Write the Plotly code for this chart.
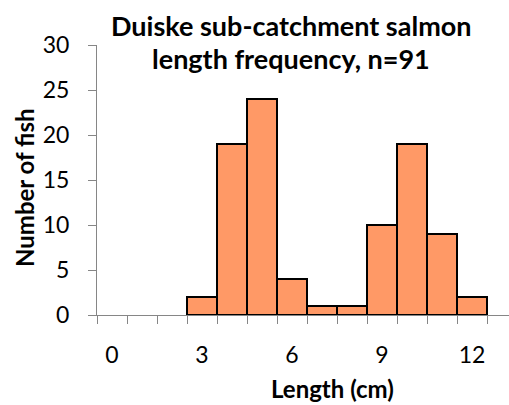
import plotly.graph_objects as go

# Data
length_cm = list(range(0, 13))
counts = [0, 0, 0, 2, 19, 24, 4, 1, 1, 10, 19, 9, 2]
x_tick_vals = [0, 3, 6, 9, 12]
x_tick_text = ["0", "3", "6", "9", "12"]
y_tick_vals = [0, 5, 10, 15, 20, 25, 30]
title_lines = ["Duiske sub-catchment salmon", "length frequency, n=91"]

W, H = 509, 405
L, R, T, B = 97, 0, 45, 90
PW, PH = W - L - R, H - T - B

def px(xp):
    return (xp - L) / PW

def py(yp):
    return (H - B - yp) / PH

FONT = "Lato"

fig = go.Figure()
fig.add_trace(go.Bar(
    x=length_cm,
    y=[c if c > 0 else None for c in counts],
    width=1,
    marker=dict(color="#FF9966", line=dict(color="black", width=2)),
    hoverinfo="x+y",
))

fig.update_layout(
    width=W, height=H,
    margin=dict(l=L, r=R, t=T, b=B, pad=0),
    paper_bgcolor="white", plot_bgcolor="white",
    showlegend=False,
    font=dict(family=FONT, size=22, color="black"),
    xaxis=dict(
        range=[-0.5, -0.5 + PW / 30.0],
        tickmode="array", tickvals=x_tick_vals, ticktext=x_tick_text,
        ticks="outside", ticklen=19, tickcolor="rgba(0,0,0,0)",
        minor=dict(tickmode="linear", tick0=-0.5, dtick=1, ticks="outside",
                   ticklen=8, tickcolor="#868686", tickwidth=1, showgrid=False),
        showline=True, linecolor="#868686", linewidth=1,
        showgrid=False, zeroline=False,
        tickfont=dict(family=FONT, size=23, color="black"),
    ),
    yaxis=dict(
        range=[0, 30], tickmode="array", tickvals=y_tick_vals,
        ticks="outside", ticklen=8, tickcolor="#868686", tickwidth=1,
        ticklabelstandoff=14,
        showline=True, linecolor="#868686", linewidth=1,
        showgrid=False, zeroline=False,
        tickfont=dict(family=FONT, size=23, color="black"),
    ),
    bargap=0,
)

for line, yc in zip(title_lines, [26, 58]):
    fig.add_annotation(
        text="<b>" + line + "</b>",
        xref="paper", yref="paper", x=px(291), y=py(yc),
        xanchor="center", yanchor="middle", showarrow=False,
        font=dict(family=FONT, size=27, color="black"),
    )
fig.add_annotation(
    text="<b>Number of fish</b>",
    xref="paper", yref="paper", x=px(24), y=py(188),
    xanchor="center", yanchor="middle", showarrow=False, textangle=-90,
    font=dict(family=FONT, size=24, color="black"),
)
fig.add_annotation(
    text="<b>Length (cm)</b>",
    xref="paper", yref="paper", x=px(332), y=py(388),
    xanchor="center", yanchor="middle", showarrow=False,
    font=dict(family=FONT, size=24, color="black"),
)

fig.write_html(
    "out.html",
    config={"displayModeBar": False},
    post_script="document.body.style.margin='0';document.body.style.overflow='hidden';",
)
